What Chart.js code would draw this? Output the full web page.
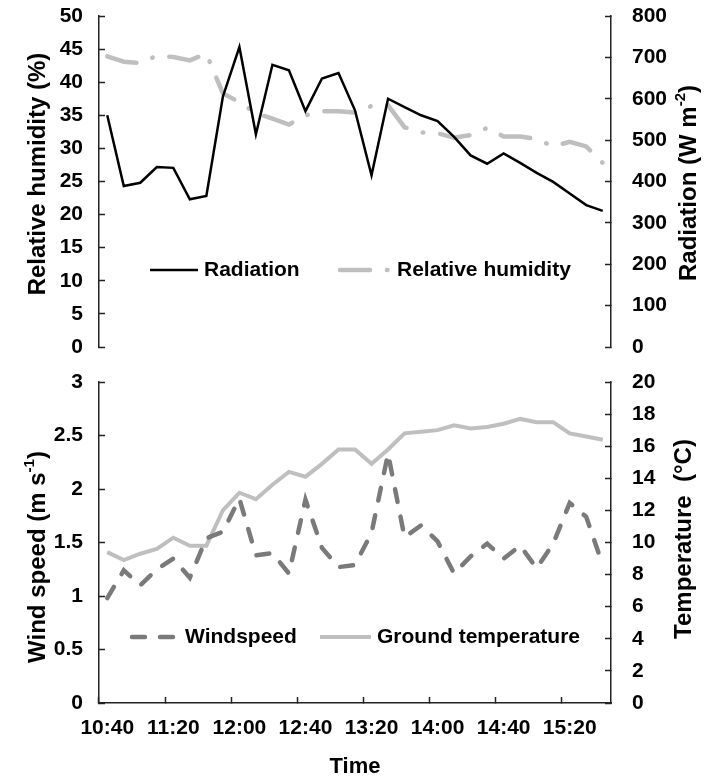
<!DOCTYPE html>
<html>
<head>
<meta charset="utf-8">
<script src="https://cdn.jsdelivr.net/npm/chart.js@4.4.0/dist/chart.umd.min.js"></script>
<style>
  html, body { margin: 0; padding: 0; background: #fff; }
  #wrap { position: relative; width: 705px; height: 778px; }
  canvas { position: absolute; left: 0; }
  #topChart { top: 0; }
  #bottomChart { top: 362px; }
</style>
</head>
<body>
<div id="wrap">
  <canvas id="topChart" width="705" height="362"></canvas>
  <canvas id="bottomChart" width="705" height="416"></canvas>
</div>
<script>
// ── Data: 10-minute readings ──
const times = ['10:40', '10:50', '11:00', '11:10', '11:20', '11:30', '11:40', '11:50',
               '12:00', '12:10', '12:20', '12:30', '12:40', '12:50', '13:00', '13:10',
               '13:20', '13:30', '13:40', '13:50', '14:00', '14:10', '14:20', '14:30',
               '14:40', '14:50', '15:00', '15:10', '15:20', '15:30', '15:40'];
const labelEvery = 4;   // 10:40, 11:20, 12:00 ...

const radiation = [560, 389, 397, 435, 433, 357, 365, 605, 725, 514, 682, 669, 570, 649, 662, 572,
                   415, 600, 580, 560, 546, 508, 463, 443, 468, 445, 421, 399, 371, 343, 329];
const humidity  = [43.9, 43.1, 42.9, 44.0, 43.8, 43.3, 44.3, 38.3, 37.0, 35.3, 34.5, 33.6, 35.0, 35.6, 35.6, 35.4,
                   36.4, 36.5, 33.2, 32.4, 32.3, 31.6, 32.0, 33.1, 31.8, 31.8, 31.4, 30.3, 31.0, 30.3, 27.8];
const windSpeed = [0.98, 1.24, 1.10, 1.25, 1.35, 1.17, 1.54, 1.60, 1.91, 1.38, 1.40, 1.21, 1.90, 1.45, 1.27, 1.29,
                   1.59, 2.33, 1.55, 1.66, 1.51, 1.21, 1.37, 1.49, 1.35, 1.47, 1.26, 1.49, 1.87, 1.74, 1.29];
const groundTemp = [9.4, 8.9, 9.3, 9.6, 10.3, 9.8, 9.8, 12.0, 13.1, 12.7, 13.6, 14.4, 14.1, 14.9, 15.8, 15.8,
                    14.9, 15.8, 16.8, 16.9, 17.0, 17.3, 17.1, 17.2, 17.4, 17.7, 17.5, 17.5, 16.8, 16.6, 16.4];

const FONT = '"Liberation Sans", Arial, sans-serif';
const AXIS = '#222';

Chart.defaults.font.family = FONT;
Chart.defaults.font.size = 21;
Chart.defaults.font.weight = 'bold';
Chart.defaults.color = '#000';
Chart.defaults.animation = false;

// ── Legend drawn inside the plot area ──
const insideLegend = {
    id: 'insideLegend',
    afterDatasetsDraw(chart, args, opts) {
        const ctx = chart.ctx;
        ctx.save();
        ctx.font = `bold 21px ${FONT}`;
        ctx.textBaseline = 'middle';
        ctx.fillStyle = '#000';
        opts.items.forEach((item, i) => {
            const ds = chart.data.datasets[i];
            ctx.strokeStyle = ds.borderColor;
            ctx.lineWidth = ds.borderWidth;
            ctx.lineCap = ds.borderCapStyle || 'butt';
            ctx.setLineDash(ds.borderDash || []);
            ctx.beginPath();
            ctx.moveTo(item.x, opts.y);
            ctx.lineTo(item.x + item.w, opts.y);
            ctx.stroke();
            ctx.setLineDash([]);
            ctx.fillText(ds.label, item.x + item.w + 6, opts.y);
        });
        ctx.restore();
    }
};

// ── Rotated side titles (with superscripts) ──
const sideTitles = {
    id: 'sideTitles',
    afterDraw(chart, args, opts) {
        const ctx = chart.ctx;
        const main = `bold 24px ${FONT}`, sup = `bold 15px ${FONT}`;
        opts.items.forEach(it => {
            ctx.save();
            ctx.translate(it.x, it.y);
            ctx.rotate(-Math.PI / 2);
            ctx.textBaseline = 'middle';
            ctx.fillStyle = '#000';
            let total = 0;
            it.parts.forEach(p => { ctx.font = p.sup ? sup : main; total += ctx.measureText(p.text).width; });
            let x = -total / 2;
            it.parts.forEach(p => {
                ctx.font = p.sup ? sup : main;
                ctx.fillText(p.text, x, p.sup ? -8 : 0);
                x += ctx.measureText(p.text).width;
            });
            ctx.restore();
        });
    }
};

function yAxis(position, min, max, step, width) {
    return {
        position, min, max,
        ticks: {
            stepSize: step,
            padding: position === 'left' ? 22 : 27,
            color: '#000',
            callback: (v) => String(v)
        },
        grid: { drawOnChartArea: false, drawTicks: true, tickLength: -6, tickColor: AXIS, tickWidth: 1.5 },
        border: { display: true, color: AXIS, width: 1.5 },
        afterFit: (s) => {
            s.width = width;
            s.paddingTop = 0;
            s.paddingBottom = 0;
        }
    };
}

// Top panel: relative humidity + radiation
new Chart(document.getElementById('topChart'), {
    type: 'line',
    data: {
        labels: times,
        datasets: [{
            label: 'Radiation',
            data: radiation,
            yAxisID: 'yR',
            borderColor: '#000',
            borderWidth: 2.5,
            pointRadius: 0,
            tension: 0
        }, {
            label: 'Relative humidity',
            data: humidity,
            yAxisID: 'yL',
            borderColor: '#bfbfbf',
            borderWidth: 4.5,
            borderDash: [30, 17, 0.5, 17],
            borderCapStyle: 'round',
            pointRadius: 0,
            tension: 0
        }]
    },
    options: {
        responsive: false,
        layout: { padding: { top: 16, bottom: 15, left: 0, right: 0 } },
        plugins: {
            legend: { display: false },
            tooltip: { enabled: false },
            insideLegend: { y: 270, items: [{ x: 150, w: 48 }, { x: 340, w: 51 }] },
            sideTitles: { items: [
                { x: 38, y: 174, parts: [{ text: 'Relative humidity (%)' }] },
                { x: 689, y: 183, parts: [{ text: 'Radiation (W m' }, { text: '-2', sup: true }, { text: ')' }] }
            ] }
        },
        scales: {
            x: { type: 'category', offset: true, display: false },
            yL: yAxis('left', 0, 50, 5, 99),
            yR: yAxis('right', 0, 800, 100, 94)
        }
    },
    plugins: [insideLegend, sideTitles]
});

// Bottom panel: wind speed + ground temperature
new Chart(document.getElementById('bottomChart'), {
    type: 'line',
    data: {
        labels: times,
        datasets: [{
            label: 'Windspeed',
            data: windSpeed,
            yAxisID: 'yL',
            borderColor: '#7a7a7a',
            borderWidth: 4.5,
            borderDash: [13, 15],
            borderCapStyle: 'round',
            pointRadius: 0,
            tension: 0
        }, {
            label: 'Ground temperature',
            data: groundTemp,
            yAxisID: 'yR',
            borderColor: '#bfbfbf',
            borderWidth: 4,
            pointRadius: 0,
            tension: 0
        }]
    },
    options: {
        responsive: false,
        layout: { padding: { top: 20, bottom: 0, left: 0, right: 0 } },
        plugins: {
            legend: { display: false },
            tooltip: { enabled: false },
            insideLegend: { y: 275, items: [{ x: 132, w: 47 }, { x: 320, w: 51 }] },
            sideTitles: { items: [
                { x: 38, y: 195, parts: [{ text: 'Wind speed (m s' }, { text: '-1', sup: true }, { text: ')' }] },
                { x: 684, y: 177, parts: [{ text: 'Temperature  (°C)' }] }
            ] }
        },
        scales: {
            x: {
                type: 'category',
                offset: true,
                grid: {
                    offset: true,
                    drawOnChartArea: false,
                    tickLength: -6,
                    tickWidth: 1.5,
                    tickColor: (c) => c.index % labelEvery === 0 ? AXIS : 'rgba(0,0,0,0)'
                },
                border: { display: true, color: AXIS, width: 1.5 },
                ticks: {
                    autoSkip: false,
                    maxRotation: 0,
                    padding: 19,
                    color: '#000',
                    callback: function (v, i) { return i % labelEvery === 0 ? this.getLabelForValue(v) : ''; }
                },
                title: {
                    display: true,
                    text: 'Time',
                    color: '#000',
                    font: { size: 22, weight: 'bold', lineHeight: 1 },
                    padding: { top: 0, bottom: 0 }
                },
                afterFit: (s) => {
                    s.height = 75;
                    s.paddingLeft = 0;
                    s.paddingRight = 0;
                }
            },
            yL: yAxis('left', 0, 3, 0.5, 99),
            yR: yAxis('right', 0, 20, 2, 94)
        }
    },
    plugins: [insideLegend, sideTitles]
});
</script>
</body>
</html>
